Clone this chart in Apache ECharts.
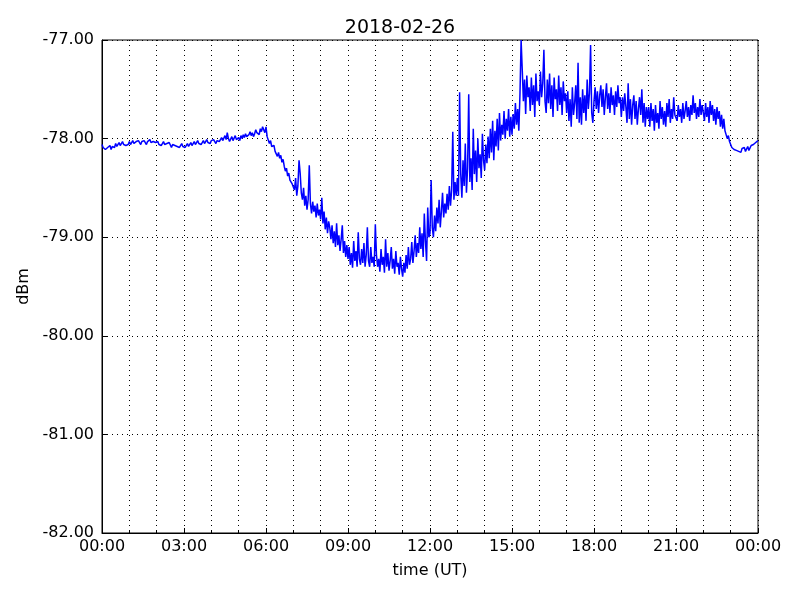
<!DOCTYPE html>
<html><head><meta charset="utf-8">
<script src="https://cdn.jsdelivr.net/npm/echarts@6/dist/echarts.min.js"></script>
<style>html,body{margin:0;padding:0;background:#fff}#c{width:800px;height:600px}</style>
</head><body><div id="c"></div>
<script>
const title = "2018-02-26";
const xLabel = "time (UT)";
const yLabel = "dBm";
const stepMinutes = 2.5;
// signal level (dBm) sampled every 2.5 minutes, one row per hour
const h00 = [-78.06,-78.09,-78.07,-78.11,-78.12,-78.09,-78.10,-78.07,-78.11,-78.08,-78.06,-78.09,-78.05,-78.08,-78.06,-78.04,-78.07,-78.05,-78.03,-78.06,-78.04,-78.07,-78.05,-78.06];
const h01 = [-78.03,-78.06,-78.04,-78.02,-78.05,-78.07,-78.03,-78.05,-78.02,-78.04,-78.06,-78.03,-78.05,-78.02,-78.04,-78.06,-78.03,-78.05,-78.01,-78.04,-78.06,-78.03,-78.05,-78.04];
const h02 = [-78.05,-78.03,-78.06,-78.04,-78.07,-78.05,-78.03,-78.06,-78.08,-78.05,-78.07,-78.04,-78.06,-78.09,-78.06,-78.04,-78.07,-78.05,-78.08,-78.06,-78.09,-78.07,-78.05,-78.08];
const h03 = [-78.06,-78.09,-78.07,-78.05,-78.08,-78.06,-78.04,-78.07,-78.05,-78.03,-78.06,-78.04,-78.02,-78.05,-78.03,-78.06,-78.04,-78.02,-78.05,-78.03,-78.01,-78.04,-78.02,-78.05];
const h04 = [-78.02,-78.04,-78.01,-78.03,-78.05,-78.02,-78.00,-78.03,-78.01,-77.99,-78.02,-78.00,-77.97,-78.01,-77.94,-78.00,-78.03,-78.01,-77.98,-78.02,-78.00,-77.97,-78.01,-77.99];
const h05 = [-77.99,-78.02,-77.97,-78.00,-77.96,-77.99,-77.95,-77.98,-78.00,-77.96,-77.93,-77.97,-77.94,-77.98,-77.95,-77.91,-77.94,-77.92,-77.96,-77.90,-77.93,-77.88,-77.91,-77.94];
const h06 = [-77.88,-77.98,-78.00,-78.05,-78.02,-78.08,-78.10,-78.07,-78.13,-78.11,-78.18,-78.14,-78.20,-78.17,-78.24,-78.21,-78.28,-78.33,-78.30,-78.38,-78.35,-78.42,-78.40,-78.46];
const h07 = [-78.44,-78.52,-78.40,-78.58,-78.48,-78.22,-78.35,-78.55,-78.62,-78.50,-78.68,-78.58,-78.72,-78.62,-78.27,-78.66,-78.76,-78.64,-78.74,-78.68,-78.80,-78.66,-78.78,-78.72];
const h08 = [-78.82,-78.60,-78.86,-78.74,-78.92,-78.80,-78.96,-78.84,-78.90,-79.02,-78.88,-79.06,-78.94,-79.10,-78.86,-79.08,-78.98,-79.14,-79.02,-78.88,-79.16,-79.04,-79.20,-79.08];
const h09 = [-79.22,-79.10,-79.28,-79.16,-79.31,-79.04,-79.24,-79.14,-79.30,-78.95,-79.22,-79.28,-79.12,-79.26,-79.06,-79.30,-79.18,-78.90,-79.24,-79.30,-79.10,-79.26,-79.20,-79.30];
const h10 = [-78.87,-79.18,-79.30,-79.22,-79.35,-79.12,-79.28,-79.20,-79.36,-79.02,-79.30,-79.16,-79.34,-79.24,-79.10,-79.32,-79.22,-79.37,-79.14,-79.30,-79.26,-79.38,-79.20,-79.32];
const h11 = [-79.40,-79.26,-79.36,-79.18,-79.32,-79.10,-79.28,-79.22,-79.05,-79.26,-79.14,-78.98,-79.20,-79.06,-79.16,-78.90,-79.12,-78.96,-79.20,-78.76,-79.04,-79.24,-78.70,-79.00];
const h12 = [-78.96,-78.42,-78.90,-79.00,-78.78,-78.94,-78.70,-78.86,-78.62,-78.90,-78.74,-78.55,-78.80,-78.66,-78.76,-78.56,-78.72,-78.48,-78.68,-78.52,-77.93,-78.62,-78.44,-78.58];
const h13 = [-78.40,-78.58,-77.53,-78.36,-78.60,-78.22,-78.48,-78.05,-78.55,-78.30,-77.55,-78.44,-78.20,-78.52,-77.90,-78.36,-78.12,-78.44,-78.00,-78.30,-78.16,-78.40,-77.95,-78.22];
const h14 = [-78.32,-78.06,-78.25,-77.98,-78.20,-77.90,-78.14,-77.82,-78.22,-77.92,-78.08,-77.80,-78.12,-77.74,-78.02,-77.86,-77.96,-77.72,-78.00,-77.80,-77.92,-77.70,-77.98,-77.78];
const h15 = [-77.96,-77.75,-77.90,-77.64,-77.86,-77.70,-77.92,-77.55,-77.00,-77.30,-77.62,-77.40,-77.75,-77.36,-77.58,-77.48,-77.72,-77.38,-77.66,-77.46,-77.78,-77.34,-77.62,-77.52];
const h16 = [-77.66,-77.32,-77.58,-77.44,-77.10,-77.62,-77.74,-77.40,-77.64,-77.34,-77.70,-77.46,-77.78,-77.38,-77.60,-77.50,-77.72,-77.36,-77.66,-77.48,-77.76,-77.42,-77.62,-77.54];
const h17 = [-77.74,-77.52,-77.82,-77.60,-77.88,-77.48,-77.76,-77.64,-77.46,-77.80,-77.23,-77.84,-77.58,-77.86,-77.50,-77.74,-77.56,-77.82,-77.40,-77.70,-77.54,-77.05,-77.74,-77.84];
const h18 = [-77.62,-77.48,-77.70,-77.52,-77.74,-77.56,-77.46,-77.68,-77.50,-77.76,-77.58,-77.44,-77.70,-77.54,-77.74,-77.48,-77.66,-77.56,-77.76,-77.52,-77.68,-77.46,-77.64,-77.58];
const h19 = [-77.78,-77.58,-77.72,-77.54,-77.68,-77.84,-77.44,-77.80,-77.60,-77.86,-77.66,-77.56,-77.80,-77.62,-77.86,-77.70,-77.58,-77.76,-77.50,-77.84,-77.64,-77.88,-77.68,-77.80];
const h20 = [-77.68,-77.88,-77.64,-77.82,-77.70,-77.92,-77.66,-77.84,-77.74,-77.90,-77.62,-77.80,-77.68,-77.86,-77.72,-77.88,-77.64,-77.78,-77.60,-77.84,-77.70,-77.80,-77.58,-77.76];
const h21 = [-77.74,-77.82,-77.66,-77.78,-77.70,-77.84,-77.64,-77.80,-77.72,-77.62,-77.78,-77.68,-77.82,-77.66,-77.76,-77.56,-77.74,-77.64,-77.80,-77.68,-77.78,-77.60,-77.76,-77.66];
const h22 = [-77.74,-77.82,-77.64,-77.78,-77.68,-77.84,-77.62,-77.76,-77.66,-77.82,-77.70,-77.86,-77.68,-77.80,-77.72,-77.88,-77.76,-77.90,-77.80,-77.92,-77.96,-78.00,-77.97,-78.03];
const h23 = [-78.05,-78.09,-78.07,-78.11,-78.09,-78.12,-78.10,-78.13,-78.11,-78.14,-78.10,-78.12,-78.09,-78.13,-78.11,-78.08,-78.12,-78.10,-78.07,-78.09,-78.06,-78.08,-78.04,-78.06];
const hEnd = [-78.02];
const yTicks = [-82, -81, -80, -79, -78, -77];

const values = [].concat(h00,h01,h02,h03,h04,h05,h06,h07,h08,h09,h10,h11,h12,h13,h14,h15,h16,h17,h18,h19,h20,h21,h22,h23,hEnd);
const data = values.map((v, i) => [i * stepMinutes / 60, v]);

const chart = echarts.init(document.getElementById('c'), null, {renderer: 'canvas'});
const font = 'DejaVu Sans';
chart.setOption({
  animation: false,
  backgroundColor: '#fff',
  title: {text: title, left: 'center', top: 14, textStyle: {fontFamily: font, fontSize: 19, fontWeight: 'normal', color: '#000'}},
  grid: {left: 102, right: 42, top: 40, bottom: 67, show: true, borderColor: '#000', borderWidth: 1, backgroundColor: 'transparent'},
  xAxis: {
    type: 'value', min: 0, max: 24, interval: 3,
    name: xLabel, nameLocation: 'middle', nameGap: 30,
    nameTextStyle: {fontFamily: font, fontSize: 16, color: '#000'},
    axisLine: {show: true, lineStyle: {color: '#000', width: 1}},
    axisTick: {show: true, inside: true, length: 5, lineStyle: {color: '#000'}},
    minorTick: {show: true, splitNumber: 3, length: 3, lineStyle: {color: '#000'}},
    splitLine: {show: true, lineStyle: {color: '#000', type: [1, 4], width: 1}},
    minorSplitLine: {show: true, lineStyle: {color: '#000', type: [1, 4], width: 1}},
    axisLabel: {fontFamily: font, fontSize: 16, color: '#000', margin: 6,
      formatter: v => { const h = Math.round(v) % 24; return (h < 10 ? '0' : '') + h + ':00'; }}
  },
  yAxis: {
    type: 'value', min: yTicks[0], max: yTicks[yTicks.length - 1], interval: 1,
    name: yLabel, nameLocation: 'middle', nameGap: 68, nameRotate: 90,
    nameTextStyle: {fontFamily: font, fontSize: 16, color: '#000'},
    axisLine: {show: true, lineStyle: {color: '#000', width: 1}},
    axisTick: {show: true, inside: true, length: 5, lineStyle: {color: '#000'}},
    splitLine: {show: true, lineStyle: {color: '#000', type: [1, 4], width: 1}},
    axisLabel: {fontFamily: font, fontSize: 16, color: '#000', margin: 8, formatter: v => v.toFixed(2)}
  },
  series: [{
    type: 'line', data: data, showSymbol: false, symbol: 'none',
    lineStyle: {color: '#0000ff', width: 1.5}, itemStyle: {color: '#0000ff'}
  }]
});
</script></body></html>
